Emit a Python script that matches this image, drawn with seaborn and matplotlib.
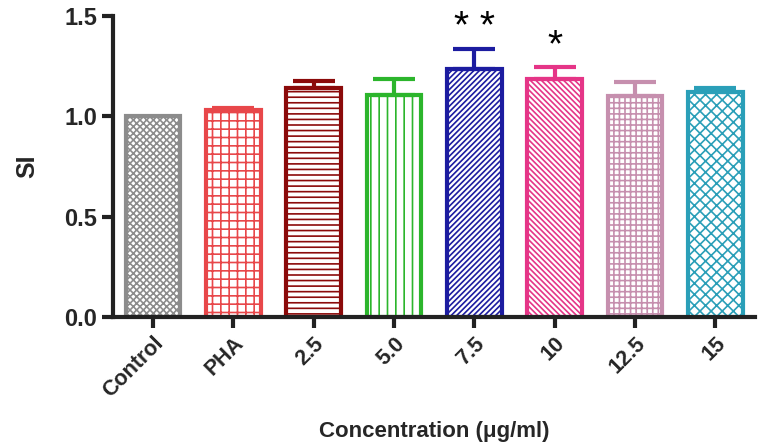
import numpy as np
import matplotlib
matplotlib.use("Agg")
import matplotlib.pyplot as plt
import seaborn as sns

# values
groups = ["Control", "PHA", "2.5", "5.0", "7.5", "10", "12.5", "15"]
si_mean = [1.00, 1.03, 1.14, 1.105, 1.235, 1.185, 1.10, 1.12]
si_err = [0.00, 0.012, 0.035, 0.08, 0.10, 0.06, 0.07, 0.02]
stars = ["", "", "", "", "**", "*", "", ""]
colors = ["#8c8c8c", "#e8474a", "#8b0a0a", "#2cb52c", "#1c1ca0", "#e53587", "#c68fae", "#2a9fb8"]
hatches = ["xxxxx", "++", "---", "||", "//////", "\\\\\\\\\\\\", "+++", "xxx"]

sns.set_style("ticks")
plt.rcParams["font.family"] = ["Liberation Sans", "DejaVu Sans"]
plt.rcParams["font.weight"] = "bold"
plt.rcParams["hatch.linewidth"] = 1.2

fig = plt.figure(figsize=(7.63, 4.46), dpi=100)
ax = fig.add_axes([0.148, 0.289, 0.842, 0.675])

sns.barplot(x=groups, y=si_mean, hue=groups, palette=colors, legend=False,
            width=0.68, ax=ax)

for patch, c, h in zip(ax.patches, colors, hatches):
    patch.set_facecolor("white")
    patch.set_edgecolor(c)
    patch.set_hatch(h)
    patch.set_linewidth(3)

# upper error bars only
xs = np.arange(len(groups))
for x, m, e, c in zip(xs, si_mean, si_err, colors):
    if e > 0:
        ax.errorbar(x, m, yerr=[[0], [e]], color=c, capsize=15, capthick=3,
                    elinewidth=3, fmt="none")

for x, m, e, s in zip(xs, si_mean, si_err, stars):
    if s:
        ax.text(x, m + e + 0.015, " ".join(s), ha="center", va="bottom",
                fontsize=28, fontweight="normal", color="black")

ax.set_ylim(0, 1.5)
ax.set_xlim(-0.5, 7.5)
ax.set_yticks([0.0, 0.5, 1.0, 1.5])
ax.set_yticklabels(["0.0", "0.5", "1.0", "1.5"], fontsize=17, fontweight="bold")
ax.set_xticks(xs)
ax.set_xticklabels(groups, rotation=45, ha="right", rotation_mode="anchor",
                   fontsize=15.5, fontweight="bold")
ax.tick_params(axis="both", width=3, length=8, color="#222222")
ax.set_ylabel("SI", fontsize=18, fontweight="bold", labelpad=18)
ax.set_xlabel("Concentration (\u03bcg/ml)", fontsize=16, fontweight="bold", labelpad=14)

for side in ["left", "bottom"]:
    ax.spines[side].set_linewidth(3)
    ax.spines[side].set_color("#222222")
sns.despine(ax=ax)

fig.savefig("out.png", dpi=100)
